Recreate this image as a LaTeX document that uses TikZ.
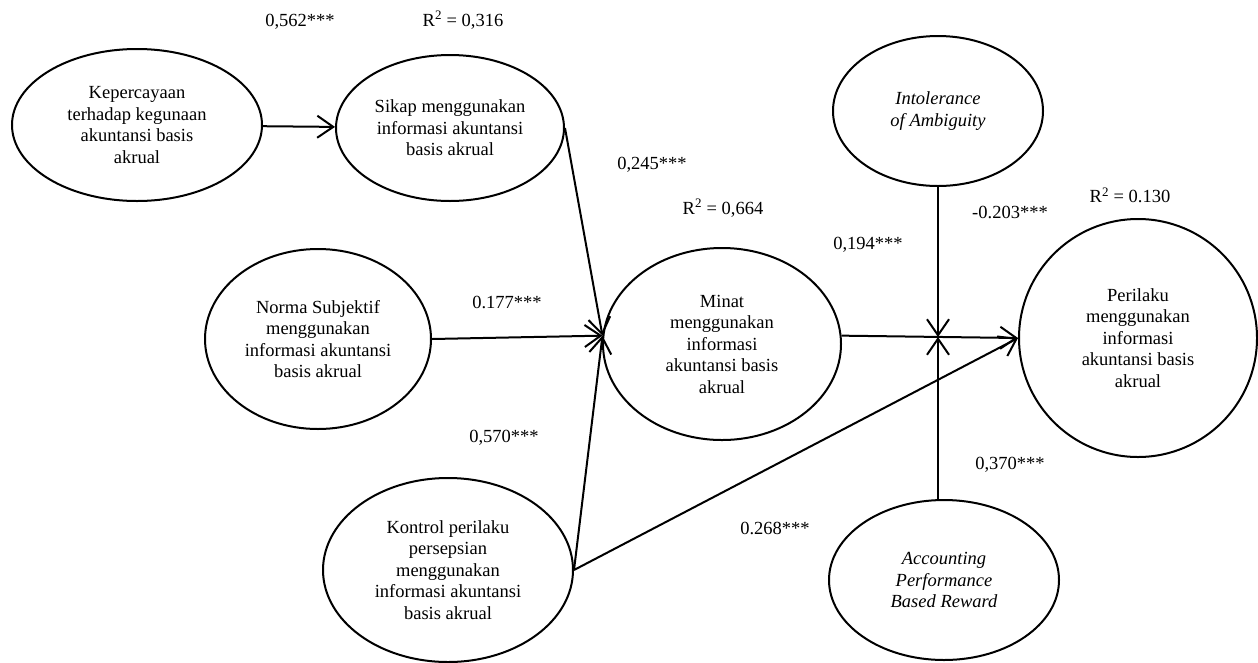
\documentclass[tikz,border=0pt]{standalone}
\usepackage{fontspec}
\setmainfont{Liberation Serif}
\usetikzlibrary{shapes.geometric, arrows.meta}

\begin{document}
\begin{tikzpicture}[x=1pt, y=-1pt, >={Straight Barb[length=16pt,width=22pt]},
  construct/.style={draw, ellipse, line width=2pt, inner sep=0pt, align=center,
    font=\fontsize{18.5}{21.5}\selectfont},
  coef/.style={font=\fontsize{18.5}{21.5}\selectfont},
  link/.style={line width=2pt, ->}]
  \useasboundingbox (0,0) rectangle (1258,662);
  % constructs
  \node (kep) at (137,125) [construct, minimum width=250, minimum height=152] {Kepercayaan\\terhadap kegunaan\\akuntansi basis\\akrual};
  \node (sikap) at (450,128) [construct, minimum width=228, minimum height=146] {Sikap menggunakan\\informasi akuntansi\\basis akrual};
  \node (norma) at (318,339) [construct, minimum width=226, minimum height=180] {Norma Subjektif\\menggunakan\\informasi akuntansi\\basis akrual};
  \node (kontrol) at (448,570) [construct, minimum width=250, minimum height=184] {Kontrol perilaku\\persepsian\\menggunakan\\informasi akuntansi\\basis akrual};
  \node (minat) at (722,344) [construct, minimum width=238, minimum height=192] {Minat\\menggunakan\\informasi\\akuntansi basis\\akrual};
  \node (intol) at (938,111) [construct, minimum width=210, minimum height=150] {\itshape Intolerance\\\itshape of Ambiguity};
  \node (acc) at (944,580) [construct, minimum width=230, minimum height=160] {\itshape Accounting\\\itshape Performance\\\itshape Based Reward};
  \node (peri) at (1138,338) [construct, minimum width=238, minimum height=238] {Perilaku\\menggunakan\\informasi\\akuntansi basis\\akrual};
  \coordinate (joint) at (938,337);

  % paths
  \draw [link] (kep) -- (sikap);
  \draw [link] (sikap.east) -- (minat.176);
  \draw [link] (norma.east) -- (minat.176);
  \draw [link] (kontrol.east) -- (minat.176);
  \draw [link] (kontrol.east) -- (peri.west);
  \draw [link] (minat.4) -- (peri.west);
  \draw [link] (joint |- intol.south) -- (joint);
  \draw [link] (joint |- acc.north) -- (joint);

  % coefficients
  \node (b1) at (300,22) [coef] {0,562***};
  \node (r1) at (463,20) [coef] {R\textsuperscript{2} = 0,316};
  \node (b2) at (652,165) [coef] {0,245***};
  \node (r2) at (723,208) [coef] {R\textsuperscript{2} = 0,664};
  \node (b3) at (507,302) [coef] {0.177***};
  \node (b4) at (504,438) [coef] {0,570***};
  \node (b5) at (868,245) [coef] {0,194***};
  \node (b6) at (1010,212) [coef] {-0.203***};
  \node (r3) at (1130,195) [coef] {R\textsuperscript{2} = 0.130};
  \node (b7) at (775,528) [coef] {0.268***};
  \node (b8) at (1010,465) [coef] {0,370***};
\end{tikzpicture}
\end{document}
